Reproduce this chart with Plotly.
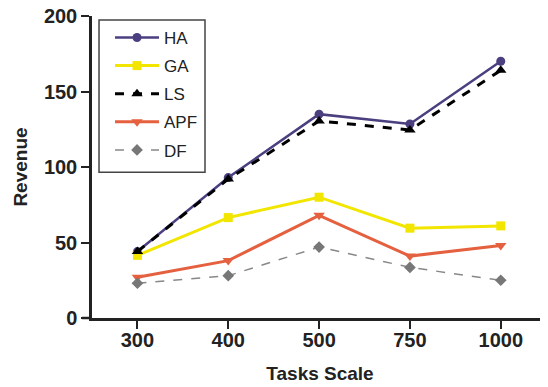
import plotly.graph_objects as go

categories = ["300", "400", "500", "750", "1000"]
ha = [44, 93, 135, 128.5, 170]
ga = [41.5, 66.5, 80, 59.5, 61]
ls = [44, 92, 130.5, 124.5, 164]
apf = [27, 38, 68, 41, 48]
df = [23, 28, 47, 33.5, 25]
y_ticks = [0, 50, 100, 150, 200]

series = [
    ("HA", ha, dict(color="#4b3f80", width=2.5, dash="solid"), dict(symbol="circle", size=9, color="#4b3f80")),
    ("GA", ga, dict(color="#f2e600", width=3, dash="solid"), dict(symbol="square", size=9, color="#f2e600")),
    ("LS", ls, dict(color="#000000", width=3, dash="dash"), dict(symbol="triangle-up", size=10, color="#000000")),
    ("APF", apf, dict(color="#e4603f", width=3, dash="solid"), dict(symbol="triangle-down", size=10, color="#e4603f")),
    ("DF", df, dict(color="#888888", width=1.5, dash="dash"), dict(symbol="diamond", size=9, color="#777777")),
]

fig = go.Figure()
for name, vals, line, marker in series:
    fig.add_trace(go.Scatter(
        x=categories, y=vals, name=name, mode="lines+markers",
        line=line, marker=marker, legendgroup=name,
    ))

font_family = "Liberation Sans, Arial, sans-serif"
tick_font = dict(size=20, family=font_family, color="#222222", weight="bold")
title_font = dict(size=19, family=font_family, color="#222222", weight="bold")
fig.update_layout(
    width=548, height=387,
    margin=dict(l=84, r=8, t=8, b=77, autoexpand=False),
    paper_bgcolor="white", plot_bgcolor="white",
    font=dict(family=font_family, color="#222222"),
    showlegend=True,
    legend=dict(
        x=0.0395, y=0.987, xanchor="left", yanchor="top",
        borderwidth=0, bgcolor="rgba(0,0,0,0)",
        font=dict(size=17, family=font_family, color="#222222"),
        traceorder="grouped", tracegroupgap=3, itemwidth=44,
    ),
    xaxis=dict(
        type="category", range=[-0.5, 4.52], automargin=False,
        showline=True, linecolor="#222222", linewidth=2.5,
        ticks="outside", ticklen=8, tickwidth=2, tickcolor="#222222",
        ticklabelstandoff=-6,
        showgrid=False, zeroline=False,
        tickfont=tick_font,
        title=dict(text="Tasks Scale", font=title_font, standoff=17),
    ),
    yaxis=dict(
        range=[0, 200], tickvals=y_ticks, automargin=False,
        ticklabeloverflow="allow",
        showline=True, linecolor="#222222", linewidth=2.5,
        ticks="outside", ticklen=8, tickwidth=2, tickcolor="#222222",
        showgrid=False, zeroline=False,
        tickfont=tick_font,
        title=dict(text="Revenue", font=title_font, standoff=12),
    ),
)
fig.add_shape(type="line", xref="paper", yref="paper", x0=-0.022, x1=0, y0=0, y1=0,
              line=dict(color="#222222", width=2.5))
fig.add_shape(type="rect", xref="paper", yref="paper", x0=0.0154, x1=0.2478, y0=0.483, y1=0.987,
              line=dict(color="#444444", width=1.5), layer="below")

fig.write_html("out.html")
